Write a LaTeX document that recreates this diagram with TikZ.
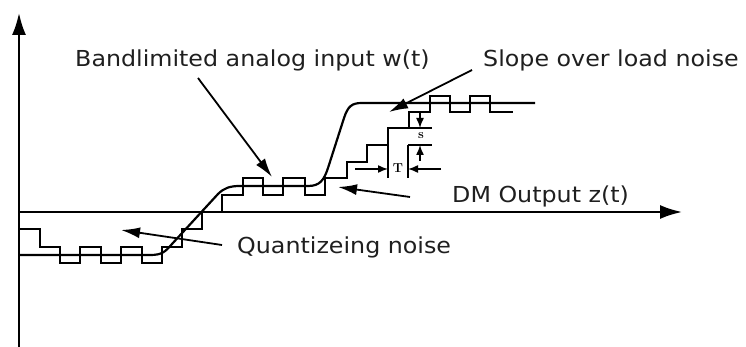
\documentclass[tikz,border=0pt]{standalone}
\usepackage{fontspec}
\newfontfamily\lab{DejaVu Sans}[FakeStretch=1.08]
\usetikzlibrary{arrows.meta}
\begin{document}
\begin{tikzpicture}[x=1pt,y=-1pt,
  thick line/.style={line width=2.2pt, line join=miter},
  axis/.style={line width=2.1pt, -{Latex[length=22pt,width=14pt]}},
  labarrow/.style={line width=1.8pt, -{Latex[length=19pt,width=11pt]}},
  dimline/.style={line width=1.6pt},
  dimarrow/.style={line width=1.5pt, -{Latex[length=10pt,width=8pt]}},
  labtext/.style={anchor=base west, inner sep=0pt, font=\lab\fontsize{22}{24}\selectfont, text=black!88},
  dimtext/.style={inner sep=0pt, font=\fontsize{13}{13}\selectfont\bfseries}
]
\useasboundingbox (0,0) rectangle (746,347);
% axes
\coordinate (ybot) at (19,347);
\coordinate (ytop) at (19,13);
\coordinate (O) at (19,212);
\coordinate (xend) at (682,212);
\draw[axis] (ybot) -- (ytop);
\draw[axis] (O) -- (xend);

% analog input w(t)
\draw[thick line] (19,255) -- (150,255) .. controls (162,255) and (165,252) .. (172,244)
  -- (218,194) .. controls (224,188) and (230,186) .. (240,186) -- (308,186)
  .. controls (320,186) and (324,180) .. (328,168) -- (344,118)
  .. controls (348,106) and (352,103) .. (362,103) -- (535,103);

% DM output staircase z(t)
\draw[thick line] (19,229) -- (40,229) -- (40,247) -- (60,247) -- (60,263) -- (80,263)
  -- (80,247) -- (101,247) -- (101,263) -- (121,263) -- (121,247) -- (142,247)
  -- (142,263) -- (162,263) -- (162,247) -- (182,247) -- (182,229) -- (202,229)
  -- (202,212) -- (222,212) -- (222,195) -- (243,195) -- (243,178) -- (263,178)
  -- (263,195) -- (283,195) -- (283,178) -- (305,178) -- (305,195) -- (325,195)
  -- (325,178) -- (347,178) -- (347,162) -- (367,162) -- (367,145) -- (388,145)
  -- (388,128) -- (409,128) -- (409,112) -- (430,112) -- (430,96) -- (450,96)
  -- (450,112) -- (470,112) -- (470,96) -- (490,96) -- (490,112) -- (513,112);

% step size s
\coordinate (sA) at (409,128);
\coordinate (sB) at (432,128);
\coordinate (sC) at (408,145);
\coordinate (sD) at (432,145);
\draw[dimline] (sA) -- (sB);
\draw[dimline] (sC) -- (sD);
\coordinate (sdn0) at (420,112);
\coordinate (sdn1) at (420,128);
\coordinate (sup0) at (420,161);
\coordinate (sup1) at (420,145);
\draw[dimarrow] (sdn0) -- (sdn1);
\draw[dimarrow] (sup0) -- (sup1);
\node[dimtext] (s) at (421,136) {s};

% step width T
\coordinate (tA) at (388,145);
\coordinate (tB) at (388,178);
\coordinate (tC) at (408,145);
\coordinate (tD) at (408,178);
\draw[dimline] (tA) -- (tB);
\draw[dimline] (tC) -- (tD);
\coordinate (tl0) at (355,169);
\coordinate (tl1) at (388,169);
\coordinate (tr0) at (441,169);
\coordinate (tr1) at (408,169);
\draw[dimarrow] (tl0) -- (tl1);
\draw[dimarrow] (tr0) -- (tr1);
\node[dimtext] (T) at (398,168) {T};

% labels
\node[labtext] (band) at (75,67) {Bandlimited analog input w(t)};
\node[labtext] (slope) at (483,67) {Slope over load noise};
\node[labtext] (dm) at (452,203) {DM Output z(t)};
\node[labtext] (quant) at (237,253) {Quantizeing noise};

\coordinate (bandA) at (198,78);
\coordinate (bandT) at (272,177);
\draw[labarrow] (bandA) -- (bandT);
\coordinate (slopeA) at (472,70);
\coordinate (slopeT) at (389,112);
\draw[labarrow] (slopeA) -- (slopeT);
\coordinate (dmA) at (410,197);
\coordinate (dmT) at (338,187);
\draw[labarrow] (dmA) -- (dmT);
\coordinate (quantA) at (222,245);
\coordinate (quantT) at (121,230);
\draw[labarrow] (quantA) -- (quantT);
\end{tikzpicture}
\end{document}
